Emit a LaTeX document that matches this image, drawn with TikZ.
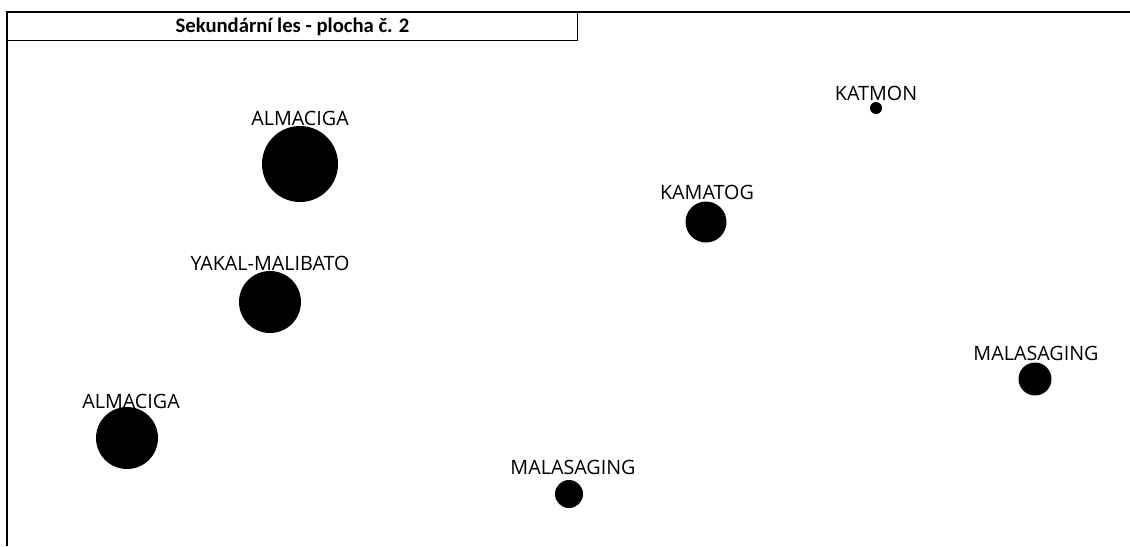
\documentclass[tikz,border=0pt]{standalone}
\usepackage{fontspec}
\setmainfont{Open Sans}
\newfontfamily\titlefont{Carlito}
\usetikzlibrary{positioning}

\begin{document}
\begin{tikzpicture}[
      x=0.75pt, y=-0.75pt,
      tree/.style={circle, fill=black, inner sep=0pt, minimum size=#1*0.75pt},
      lbl/.style={anchor=base, inner sep=0pt, font=\fontsize{14.8}{17}\selectfont},
      ttl/.style={draw, line width=0.8pt, inner sep=0pt, minimum width=570*0.75pt,
                  minimum height=28*0.75pt, anchor=north west,
                  font=\titlefont\bfseries\fontsize{15.5}{18}\selectfont},
    ]
      \useasboundingbox (0,0) rectangle (1130,546);

      % Frame
      \coordinate (fbl) at (7,546);
      \coordinate (ftl) at (7,12);
      \coordinate (ftr) at (1130,12);
      \draw[line width=1.3pt] (fbl)--(ftl)--(ftr);
      \node[ttl] (title) at (ftl) {Sekundární les - plocha č. 2};

      % Trees
      \node[tree=76] (alm1)  at ( 300, 164) {};
      \node[tree=12] (katm)  at ( 876, 108) {};
      \node[tree=41] (kamt)  at ( 706, 222) {};
      \node[tree=62] (yakal) at ( 270, 302) {};
      \node[tree=33] (mal1)  at (1035, 379) {};
      \node[tree=62] (alm2)  at ( 127, 438) {};
      \node[tree=28] (mal2)  at ( 569, 494) {};

      % Labels
      \node[lbl] (alm1txt)  at ( 300, 125) {ALMACIGA};
      \node[lbl] (katmtxt)  at ( 876, 100) {KATMON};
      \node[lbl] (kamttxt)  at ( 707, 199) {KAMATOG};
      \node[lbl] (yakaltxt) at ( 270, 270) {YAKAL-MALIBATO};
      \node[lbl] (mal1txt)  at (1036, 360) {MALASAGING};
      \node[lbl] (alm2txt)  at ( 131, 408) {ALMACIGA};
      \node[lbl] (mal2txt)  at ( 573, 474) {MALASAGING};
\end{tikzpicture}
\end{document}
